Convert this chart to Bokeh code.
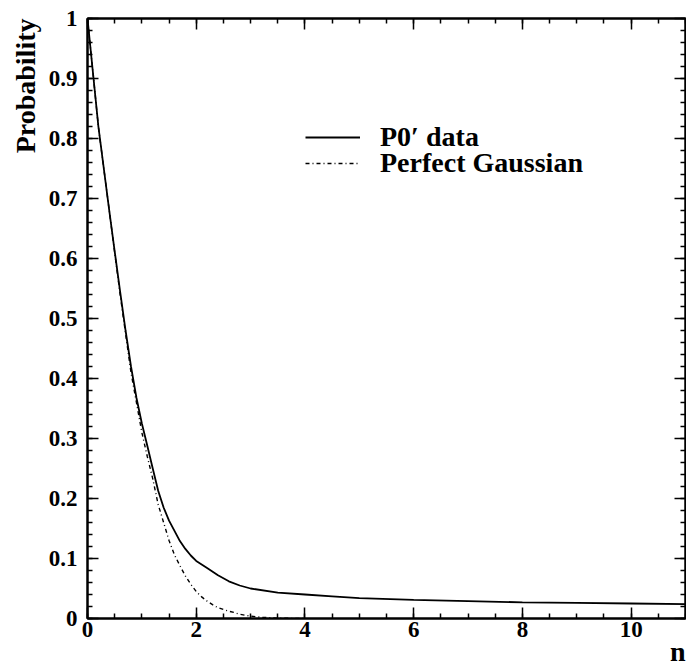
from bokeh.plotting import figure
from bokeh.models import (Range1d, LinearAxis, SingleIntervalTicker,
                          CustomJSTickFormatter, Legend, LegendItem, Title)
from bokeh.embed import file_html
from bokeh.resources import INLINE

# ---- data ----
n_data = [0.0, 0.1, 0.2, 0.3, 0.4, 0.5, 0.6, 0.7, 0.8, 0.9, 1.0, 1.1, 1.2, 1.3,
          1.4, 1.5, 1.6, 1.7, 1.8, 1.9, 2.0, 2.2, 2.4, 2.6, 2.8, 3.0, 3.5, 4.0,
          4.5, 5.0, 6.0, 7.0, 8.0, 9.0, 10.0, 11.0]
p0_data = [1.0, 0.91, 0.82, 0.75, 0.68, 0.612, 0.545, 0.48, 0.42, 0.368, 0.325,
           0.288, 0.25, 0.213, 0.185, 0.163, 0.146, 0.129, 0.116, 0.105, 0.096,
           0.084, 0.072, 0.062, 0.055, 0.050, 0.043, 0.040, 0.037, 0.034, 0.031,
           0.029, 0.027, 0.026, 0.025, 0.024]

n_gauss = [0.0, 0.2, 0.4, 0.6, 0.8, 0.9, 1.0, 1.1, 1.2, 1.3, 1.4, 1.5, 1.6, 1.7,
           1.8, 1.9, 2.0, 2.1, 2.2, 2.3, 2.4, 2.5, 2.6, 2.7, 2.8, 3.0, 3.2, 3.5, 4.0]
p_gauss = [1.0, 0.82, 0.68, 0.54, 0.41, 0.36, 0.31, 0.27, 0.233, 0.19, 0.16,
           0.13, 0.106, 0.088, 0.071, 0.057, 0.045, 0.036, 0.029, 0.023, 0.018,
           0.015, 0.012, 0.010, 0.007, 0.004, 0.002, 0.0005, 0.0]

x_ticks = [0, 2, 4, 6, 8, 10]
y_ticks = [0, 0.1, 0.2, 0.3, 0.4, 0.5, 0.6, 0.7, 0.8, 0.9, 1]
y_tick_labels = ["0", "0.1", "0.2", "0.3", "0.4", "0.5", "0.6", "0.7", "0.8", "0.9", "1"]

series_labels = ["P0\u2032 data", "Perfect Gaussian"]
x_title = "n"
y_title = "Probability"

FONT = "Liberation Serif"

p = figure(width=686, height=669, output_backend="svg", toolbar_location=None,
           x_range=Range1d(0, 11), y_range=Range1d(0, 1),
           x_axis_type=None, y_axis_type=None,
           min_border_left=87, min_border_right=1, min_border_top=18,
           min_border_bottom=51)
p.grid.visible = False
p.outline_line_color = "black"
p.outline_line_width = 2
p.background_fill_color = "white"
p.border_fill_color = "white"

empty_fmt = CustomJSTickFormatter(code="return ''")


def style_axis(ax, show_labels):
    ax.axis_line_width = 2
    ax.axis_line_color = "black"
    ax.major_tick_in = 11
    ax.major_tick_out = 0
    ax.minor_tick_in = 5
    ax.minor_tick_out = 0
    ax.major_tick_line_width = 1.5
    ax.minor_tick_line_width = 1.5
    ax.major_tick_line_color = "black"
    ax.minor_tick_line_color = "black"
    ax.major_label_text_font = FONT
    ax.major_label_text_font_style = "bold"
    ax.major_label_text_color = "black"
    if show_labels:
        ax.major_label_text_font_size = "23px"
    else:
        ax.major_label_text_font_size = "1px"
        ax.major_label_standoff = 0


xt = SingleIntervalTicker(interval=2, num_minor_ticks=4)
yt = SingleIntervalTicker(interval=0.1, num_minor_ticks=5)
yfmt = CustomJSTickFormatter(args=dict(ticks_v=y_ticks, labels=y_tick_labels), code="""
    let best = 0, d = 1e9;
    for (let i = 0; i < ticks_v.length; i++) {
        const e = Math.abs(ticks_v[i] - tick);
        if (e < d) { d = e; best = i; }
    }
    return labels[best];
""")

bottom = LinearAxis(ticker=xt)
style_axis(bottom, True)
bottom.major_label_standoff = 3
p.add_layout(bottom, "below")

top = LinearAxis(ticker=xt, formatter=empty_fmt)
style_axis(top, False)
p.add_layout(top, "above")

left = LinearAxis(ticker=yt, formatter=yfmt)
style_axis(left, True)
left.major_label_standoff = 10
p.add_layout(left, "left")

right = LinearAxis(ticker=yt, formatter=empty_fmt)
style_axis(right, False)
p.add_layout(right, "right")

ytitle = Title(text=y_title, align="right", standoff=10, offset=0,
               text_font=FONT, text_font_style="bold", text_font_size="28px",
               text_color="black")
p.add_layout(ytitle, "left")

xtitle = Title(text=x_title, align="right", standoff=-11, offset=0,
               text_font=FONT, text_font_style="bold", text_font_size="28px",
               text_color="black")
p.add_layout(xtitle, "below")

r1 = p.line(n_data, p0_data, line_color="black", line_width=1.8)
r2 = p.line(n_gauss, p_gauss, line_color="black", line_width=1.4, line_dash="4 3 1 3")


def make_legend(label, renderer, loc):
    return Legend(items=[LegendItem(label=label, renderers=[renderer])],
                  location=loc, orientation="vertical",
                  glyph_width=55, glyph_height=20, label_standoff=20,
                  spacing=0, padding=0, margin=0,
                  label_text_font=FONT, label_text_font_style="bold",
                  label_text_font_size="28px", label_text_color="black",
                  border_line_alpha=0, background_fill_alpha=0)


p.add_layout(make_legend(series_labels[0], r1, (218, 465)), "center")
p.add_layout(make_legend(series_labels[1], r2, (218, 439)), "center")

open("out.html", "w").write(file_html(p, INLINE))
